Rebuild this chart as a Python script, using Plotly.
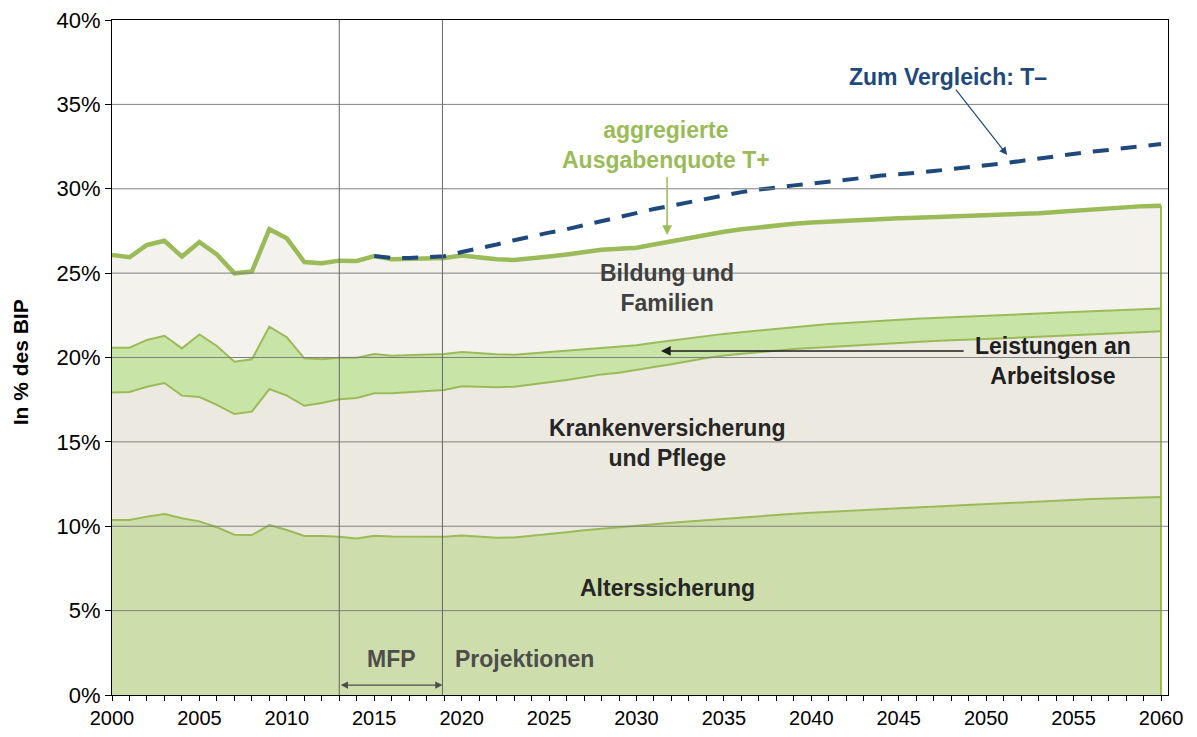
import plotly.graph_objects as go

years = list(range(2000, 2061))

# Upper edge of "Alterssicherung" (in % of GDP)
alters = [10.37, 10.37, 10.57, 10.73, 10.47, 10.29, 9.94, 9.50, 9.48, 10.07,
          9.78, 9.42, 9.42, 9.38, 9.28, 9.44, 9.40, 9.40, 9.38, 9.38,
          9.45, 9.38, 9.32, 9.33, 9.42, 9.54, 9.64, 9.76, 9.86, 9.94,
          10.02, 10.12, 10.21, 10.29, 10.37, 10.45, 10.53, 10.60, 10.67, 10.74,
          10.80, 10.86, 10.91, 10.96, 11.01, 11.06, 11.11, 11.16, 11.21, 11.27,
          11.33, 11.39, 11.44, 11.49, 11.54, 11.58, 11.61, 11.64, 11.67, 11.70,
          11.73]

# Upper edge of "Krankenversicherung und Pflege" (cumulative)
kranken = [17.92, 17.96, 18.27, 18.49, 17.74, 17.66, 17.19, 16.65, 16.79, 18.13,
           17.74, 17.14, 17.30, 17.52, 17.60, 17.88, 17.88, 17.94, 18.00, 18.07,
           18.30, 18.27, 18.23, 18.27, 18.39, 18.51, 18.67, 18.83, 19.00, 19.10,
           19.25, 19.44, 19.60, 19.80, 19.97, 20.12, 20.22, 20.32, 20.42, 20.50,
           20.57, 20.63, 20.70, 20.77, 20.84, 20.90, 20.94, 20.98, 21.02, 21.05,
           21.08, 21.13, 21.18, 21.23, 21.28, 21.33, 21.38, 21.42, 21.46, 21.50,
           21.55]

# Upper edge of "Leistungen an Arbeitslose" (cumulative)
arbeitslose = [20.58, 20.58, 21.04, 21.29, 20.54, 21.37, 20.68, 19.75, 19.89, 21.83,
               21.20, 19.95, 19.89, 19.99, 19.99, 20.21, 20.11, 20.13, 20.15, 20.21,
               20.32, 20.25, 20.19, 20.17, 20.25, 20.35, 20.44, 20.52, 20.60, 20.65,
               20.72, 20.88, 21.02, 21.15, 21.28, 21.40, 21.50, 21.60, 21.70, 21.80,
               21.90, 21.98, 22.05, 22.12, 22.18, 22.25, 22.30, 22.34, 22.38, 22.41,
               22.45, 22.50, 22.55, 22.60, 22.65, 22.70, 22.74, 22.78, 22.82, 22.86,
               22.90]

# Aggregated expenditure ratio T+ (total)
total_tplus = [26.07, 25.94, 26.67, 26.92, 25.98, 26.84, 26.11, 24.99, 25.09, 27.60,
               27.06, 25.66, 25.58, 25.74, 25.72, 26.01, 25.82, 25.84, 25.86, 25.90,
               26.05, 25.94, 25.82, 25.78, 25.85, 25.98, 26.10, 26.25, 26.38, 26.45,
               26.50, 26.70, 26.90, 27.10, 27.30, 27.45, 27.60, 27.72, 27.83, 27.92,
               28.00, 28.06, 28.12, 28.17, 28.21, 28.25, 28.28, 28.31, 28.34, 28.37,
               28.40, 28.44, 28.48, 28.55, 28.62, 28.70, 28.78, 28.85, 28.92, 28.97,
               29.00]

# Comparison scenario T- (from 2015)
years_tminus = list(range(2015, 2061))
total_tminus = [26.01, 25.90, 25.90, 25.93, 26.00,
                26.25, 26.45, 26.70, 26.95, 27.20, 27.40, 27.60, 27.85, 28.10, 28.35,
                28.60, 28.80, 29.00, 29.20, 29.45, 29.60, 29.80, 29.95, 30.10, 30.20,
                30.30, 30.40, 30.50, 30.65, 30.78, 30.85, 30.95, 31.05, 31.15, 31.25,
                31.35, 31.50, 31.65, 31.80, 31.95, 32.10, 32.20, 32.30, 32.40, 32.50,
                32.65]

x_tick_vals = [2000, 2005, 2010, 2015, 2020, 2025, 2030, 2035, 2040, 2045, 2050, 2055, 2060]
x_tick_labels = ["2000", "2005", "2010", "2015", "2020", "2025", "2030", "2035",
                 "2040", "2045", "2050", "2055", "2060"]
y_tick_vals = [0, 5, 10, 15, 20, 25, 30, 35, 40]
y_tick_labels = ["0%", "5%", "10%", "15%", "20%", "25%", "30%", "35%", "40%"]
phase_bounds = [2013, 2018.9]

GREEN = "#9BBB59"
NAVY = "#1F497D"
FONT = "Liberation Sans, Arial, sans-serif"

fig = go.Figure()
fig.add_trace(go.Scatter(x=years, y=alters, mode="lines", fill="tozeroy",
                         fillcolor="#CDDDAB", line=dict(color=GREEN, width=2),
                         hoverinfo="skip"))
fig.add_trace(go.Scatter(x=years, y=kranken, mode="lines", fill="tonexty",
                         fillcolor="#ECE9E0", line=dict(color=GREEN, width=2),
                         hoverinfo="skip"))
fig.add_trace(go.Scatter(x=years, y=arbeitslose, mode="lines", fill="tonexty",
                         fillcolor="#C9E4A7", line=dict(color=GREEN, width=2),
                         hoverinfo="skip"))
fig.add_trace(go.Scatter(x=years, y=total_tplus, mode="lines", fill="tonexty",
                         fillcolor="#F3F2ED", line=dict(color=GREEN, width=4.5),
                         hoverinfo="skip"))
fig.add_trace(go.Scatter(x=years_tminus, y=total_tminus, mode="lines",
                         line=dict(color=NAVY, width=4, dash="16px,12px"),
                         hoverinfo="skip"))
# closing edge of area at the last year
fig.add_trace(go.Scatter(x=[years[-1], years[-1]], y=[0, total_tplus[-1]], mode="lines",
                         line=dict(color=GREEN, width=2), hoverinfo="skip"))

shapes = []
for v in y_tick_vals[1:-1]:
    shapes.append(dict(type="line", xref="paper", x0=0, x1=1, yref="y", y0=v, y1=v,
                       line=dict(color="#808080", width=1), layer="above"))
for b in phase_bounds:
    shapes.append(dict(type="line", xref="x", x0=b, x1=b, yref="y", y0=0, y1=40,
                       line=dict(color="#666666", width=1), layer="above"))

ann = []
def txt(x, y, t, color, size=23):
    ann.append(dict(x=x, y=y, xref="x", yref="y", text=t, showarrow=False,
                    font=dict(family=FONT, size=size, color=color), align="center"))

txt(2031.7, 32.6, "<b>aggregierte<br>Ausgabenquote T+</b>", GREEN)
txt(2047.8, 36.6, "<b>Zum Vergleich: T–</b>", NAVY)
txt(2031.75, 24.1, "<b>Bildung und<br>Familien</b>", "#404040")
txt(2053.8, 19.8, "<b>Leistungen an<br>Arbeitslose</b>", "#1E1E1E")
txt(2031.75, 14.93, "<b>Krankenversicherung<br>und Pflege</b>", "#262626")
txt(2031.75, 6.34, "<b>Alterssicherung</b>", "#262626")
txt(2015.96, 2.13, "<b>MFP</b>", "#4D4D4D")
txt(2023.57, 2.13, "<b>Projektionen</b>", "#4D4D4D")

# y axis title
ann.append(dict(x=-0.087, y=0.493, xref="paper", yref="paper", text="<b>In % des BIP</b>",
                textangle=-90, showarrow=False, xanchor="center", yanchor="middle",
                font=dict(family=FONT, size=21, color="black")))

# arrows
ann.append(dict(x=2031.75, y=27.26, ax=2031.75, ay=30.8, xref="x", yref="y",
                axref="x", ayref="y", showarrow=True, arrowhead=2, arrowsize=1.3,
                arrowwidth=1.5, arrowcolor=GREEN, text=""))
ann.append(dict(x=2051.2, y=32.0, ax=2048.2, ay=35.97, xref="x", yref="y",
                axref="x", ayref="y", showarrow=True, arrowhead=2, arrowsize=1.3,
                arrowwidth=1.2, arrowcolor=NAVY, text=""))
ann.append(dict(x=2031.4, y=20.39, ax=2048.8, ay=20.39, xref="x", yref="y",
                axref="x", ayref="y", showarrow=True, arrowhead=2, arrowsize=1.3,
                arrowwidth=1.5, arrowcolor="#1E1E1E", text=""))
ann.append(dict(x=phase_bounds[1], y=0.59, ax=phase_bounds[0], ay=0.59, xref="x", yref="y",
                axref="x", ayref="y", showarrow=True, arrowhead=2, startarrowhead=2,
                arrowside="end+start", arrowsize=1.2, startarrowsize=1.2,
                arrowwidth=1.2, arrowcolor="#4D4D4D", text=""))

# page body has an 8px default margin, so the figure is 8px smaller on each axis
fig.update_layout(
    width=1189, height=729,
    margin=dict(l=104, r=29, t=12, b=42, autoexpand=False),
    paper_bgcolor="white", plot_bgcolor="white",
    showlegend=False,
    shapes=shapes, annotations=ann,
    font=dict(family=FONT, size=20, color="black"),
    xaxis=dict(range=[2000, 2060.4], tickvals=x_tick_vals, ticktext=x_tick_labels,
               ticks="outside", ticklen=5, tickcolor="black", showgrid=False,
               showline=True, linecolor="black", linewidth=1, mirror=True,
               zeroline=False, tickfont=dict(size=20), automargin=False,
               ticklabeloverflow="allow",
               minor=dict(dtick=1, ticks="outside", ticklen=5, tickcolor="black")),
    yaxis=dict(range=[0, 40], tickvals=y_tick_vals, ticktext=y_tick_labels,
               ticks="outside", ticklen=6, tickcolor="black", showgrid=False,
               showline=True, linecolor="black", linewidth=1, mirror=True,
               zeroline=False, tickfont=dict(size=22), automargin=False,
               ticklabeloverflow="allow"),
)

fig.write_html("out.html")
